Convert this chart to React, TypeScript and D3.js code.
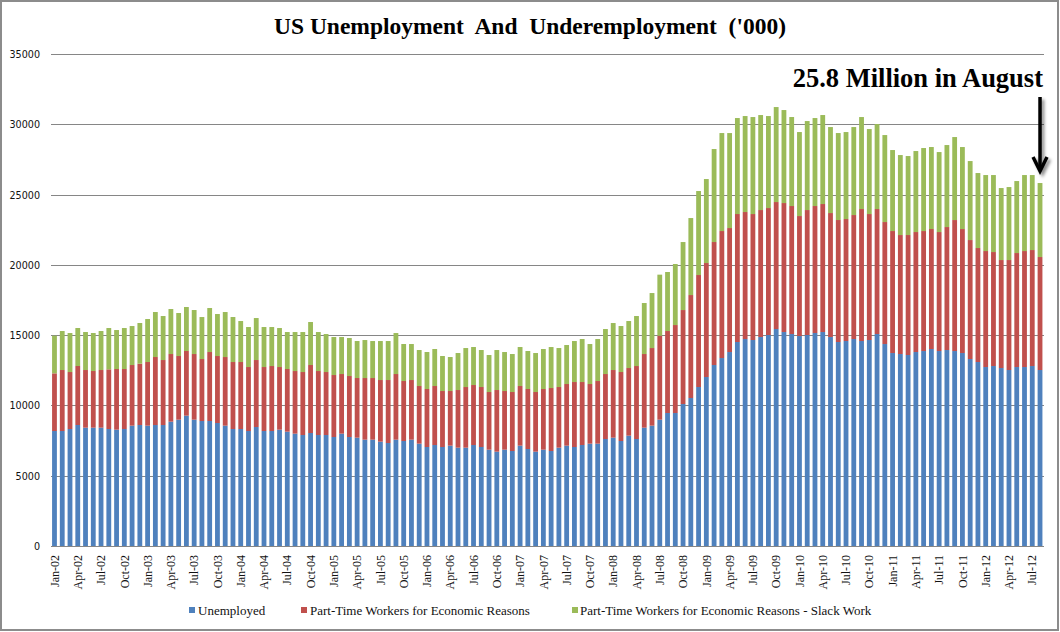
import React from "react";
import * as d3 from "d3";

const months: string[] = d3.timeMonth
  .range(new Date(2002, 0, 1), new Date(2012, 8, 1))
  .map((d) => d3.timeFormat("%b-%y")(d));

const unemployed = [
  8180, 8180, 8322, 8607, 8417, 8417, 8417, 8322, 8275, 8322, 8559, 8607,
  8559, 8607, 8607, 8844, 8986, 9271, 8986, 8891, 8891, 8749, 8559, 8322,
  8322, 8180, 8464, 8180, 8180, 8275, 8133, 7990, 7895, 8038, 7895, 7895,
  7753, 7990, 7753, 7706, 7563, 7563, 7421, 7326, 7563, 7469, 7563, 7279,
  7042, 7184, 7042, 7137, 6994, 6994, 7184, 7042, 6852, 6710, 6852, 6757,
  7137, 6900, 6710, 6852, 6757, 6994, 7137, 7042, 7184, 7279, 7279, 7611,
  7706, 7469, 7848, 7611, 8417, 8559, 8986, 9460, 9460, 10100, 10527, 11310,
  12021, 12875, 13372, 13799, 14511, 14724, 14653, 14866, 15008, 15435, 15222, 15080,
  14937, 15008, 15151, 15222, 14866, 14511, 14582, 14724, 14582, 14653, 15080, 14368,
  13728, 13657, 13586, 13799, 13870, 14013, 13870, 13941, 13870, 13728, 13301, 13088,
  12732, 12803, 12661, 12519, 12732, 12732, 12803, 12519,
];

const partTime = [
  4102, 4339, 4054, 4197, 4102, 4031, 4102, 4244, 4315, 4268, 4315, 4363,
  4529, 4837, 4623, 4813, 4529, 4600, 4671, 4410, 4908, 4766, 4884, 4766,
  4766, 4552, 4766, 4552, 4623, 4457, 4457, 4457, 4481, 4837, 4552, 4481,
  4410, 4244, 4339, 4244, 4386, 4386, 4386, 4481, 4671, 4268, 4244, 4102,
  4126, 4197, 3983, 3888, 4102, 4315, 4268, 4268, 4102, 4386, 4173, 4197,
  4244, 4268, 4244, 4315, 4481, 4315, 4386, 4623, 4481, 4244, 4457, 4623,
  4813, 4908, 4813, 5192, 5240, 5524, 5975, 5833, 6259, 6686, 7326, 7967,
  8109, 8749, 9034, 8820, 9105, 9034, 8962, 9034, 9034, 9034, 9176, 9105,
  8536, 8891, 9034, 9105, 8820, 8678, 8678, 8820, 9389, 8962, 8891, 8678,
  8678, 8464, 8536, 8536, 8536, 8536, 8464, 8749, 9318, 8820, 8464, 8109,
  8251, 8109, 7682, 7824, 8109, 8251, 8251, 8038,
];

const slackWork = [
  2679, 2774, 2774, 2703, 2703, 2703, 2774, 2940, 2774, 2916, 2774, 2893,
  3059, 3201, 3130, 3201, 3059, 3130, 3130, 2987, 3130, 2987, 3201, 3201,
  2916, 2845, 2987, 2845, 2774, 2774, 2632, 2774, 2845, 3059, 2774, 2703,
  2703, 2632, 2703, 2632, 2703, 2632, 2774, 2774, 2916, 2632, 2561, 2561,
  2632, 2632, 2490, 2418, 2632, 2774, 2703, 2632, 2632, 2845, 2774, 2703,
  2774, 2703, 2774, 2845, 2916, 2774, 2774, 2916, 3059, 2845, 2987, 3201,
  3343, 3272, 3343, 3557, 3628, 3912, 4342, 4199, 4341, 4837, 5477, 5975,
  5975, 6615, 6971, 6757, 6828, 6828, 6900, 6757, 6544, 6757, 6615, 6331,
  5975, 6331, 6259, 6331, 6117, 6188, 6188, 6259, 6544, 6046, 6046, 6188,
  5762, 5690, 5619, 5762, 5904, 5833, 5690, 5833, 5904, 5833, 5619, 5335,
  5406, 5477, 5121, 5192, 5121, 5406, 5335, 5264,
];

const yTicks = [0, 5000, 10000, 15000, 20000, 25000, 30000, 35000];
const seriesNames = [
  "Unemployed",
  "Part-Time Workers for Economic Reasons",
  "Part-Time Workers for Economic Reasons - Slack Work",
];
const seriesKeys = ["u", "p", "s"];
const colors = ["#4F81BD", "#C0504D", "#9BBB59"];
const title = "US Unemployment  And  Underemployment  ('000)";
const annotation = "25.8 Million in August";

export default function App() {
  const W = 1060;
  const H = 632;
  const x = d3
    .scaleBand<string>()
    .domain(months)
    .range([50.6, 1043.9])
    .paddingInner(0.38)
    .paddingOuter(0.19);
  const y = d3.scaleLinear().domain([0, 35000]).range([546, 54]);

  const rows = months.map((m, i) => ({
    m,
    u: unemployed[i],
    p: partTime[i],
    s: slackWork[i],
  }));
  const stacked = d3.stack<any>().keys(seriesKeys)(rows);

  const tickMonths = months.filter((_, i) => i % 3 === 0);
  const lastMonth = months[months.length - 1];
  const arrowX = (x(lastMonth) as number) + x.bandwidth() / 2;

  const legendItems = [
    { sq: 189, tx: 198 },
    { sq: 301, tx: 310 },
    { sq: 572, tx: 580 },
  ];

  return (
    <div style={{ position: "absolute", left: 0, top: 0 }}>
      <svg width={W} height={H} style={{ display: "block", background: "#fff" }}>
        <defs>
          <filter id="shadow" x="-50%" y="-20%" width="200%" height="140%">
            <feDropShadow dx="2.5" dy="2.5" stdDeviation="1.5" floodColor="#000" floodOpacity="0.45" />
          </filter>
        </defs>
        <rect x={1} y={1} width={W - 3} height={H - 3} fill="#fff" stroke="#8c8c8c" strokeWidth={2} />
        <text
          x={530}
          y={34}
          textAnchor="middle"
          fontFamily="'Liberation Serif', 'Times New Roman', serif"
          fontWeight="bold"
          fontSize={23.5}
          fill="#000"
          style={{ whiteSpace: "pre" }}
        >
          {title}
        </text>
        {yTicks.map((t) => (
          <g key={t}>
            <line x1={51} x2={1044} y1={Math.round(y(t)) + 0.5} y2={Math.round(y(t)) + 0.5} stroke="#868686" strokeWidth={1} />
            <text
              x={40}
              y={y(t) + 4}
              textAnchor="end"
              fontFamily="'DejaVu Sans', sans-serif"
              fontSize={9.6}
              fill="#111"
            >
              {t}
            </text>
          </g>
        ))}
        {stacked.map((layer, li) => (
          <g key={li} fill={colors[li]}>
            {layer.map((d: any, i: number) => (
              <rect
                key={i}
                x={x(months[i])}
                width={x.bandwidth()}
                y={y(d[1])}
                height={y(d[0]) - y(d[1])}
              />
            ))}
          </g>
        ))}
        {tickMonths.map((m) => (
          <text
            key={m}
            transform={`translate(${(x(m) as number) + x.bandwidth() / 2},555) rotate(-90)`}
            textAnchor="end"
            dy="0.35em"
            fontFamily="'Liberation Serif', 'Times New Roman', serif"
            fontSize={12}
            fill="#111"
          >
            {m}
          </text>
        ))}
        {seriesNames.map((n, i) => (
          <g key={n}>
            <rect x={legendItems[i].sq} y={607} width={6} height={6} fill={colors[i]} />
            <text
              x={legendItems[i].tx}
              y={615}
              fontFamily="'Liberation Serif', 'Times New Roman', serif"
              fontSize={13}
              fill="#111"
            >
              {n}
            </text>
          </g>
        ))}
        <text
          x={1043}
          y={87}
          textAnchor="end"
          fontFamily="'Liberation Serif', 'Times New Roman', serif"
          fontWeight="bold"
          fontSize={26.5}
          fill="#000"
        >
          {annotation}
        </text>
        <g filter="url(#shadow)" stroke="#000" strokeWidth={3.5} fill="none">
          <line x1={arrowX} x2={arrowX} y1={97} y2={171} />
          <polyline points={`${arrowX - 7},157 ${arrowX},171 ${arrowX + 7},157`} strokeLinejoin="miter" />
        </g>
      </svg>
    </div>
  );
}
